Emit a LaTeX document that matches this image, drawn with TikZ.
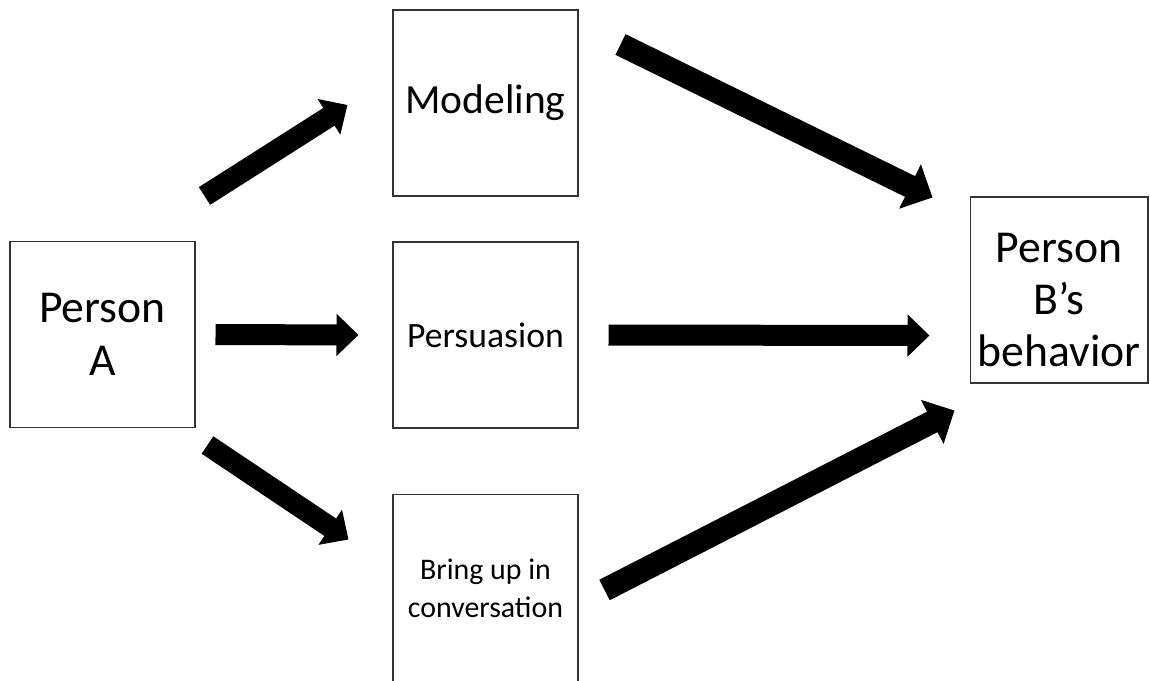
\documentclass[tikz,border=0pt]{standalone}
\usepackage{fontspec}
\setmainfont{Carlito}
\usetikzlibrary{arrows.meta,calc,positioning}

\tikzset{
	stage/.style={draw=black!80, line width=0.6pt, inner sep=0pt, align=center,
		minimum width=3.7cm, minimum height=3.72cm},
	thinarrow/.style={line width=0.42cm, -{Triangle[length=0.44cm,width=0.82cm]}},
	widearrow/.style={line width=0.46cm, -{Triangle[length=0.5cm,width=0.96cm]}}
}

\begin{document}
\begin{tikzpicture}[x=0.02cm,y=-0.02cm]
	\useasboundingbox (0,0) rectangle (1150,680);
	\node[stage, font=\fontsize{26}{30}\selectfont] (personA) at (102.5,334.5) {Person\\A};
	\node[stage, font=\fontsize{23.6}{27}\selectfont] (modeling) at (485.5,103) {\raisebox{3pt}{Modeling}};
	\node[stage, font=\fontsize{20.3}{24}\selectfont] (persuasion) at (485.5,335) {Persuasion};
	\node[stage, minimum height=3.76cm, font=\fontsize{17}{21.5}\selectfont] (convo) at (485.5,588) {Bring up in\\conversation};
	\node[stage, minimum width=3.56cm, font=\fontsize{26}{29.5}\selectfont] (personB) at (1059,290)
		{\raisebox{-8pt}[\height][\depth]{\begin{tabular}{@{}c@{}}Person\\B’s\\behavior\end{tabular}}};
	% first step
	\draw[thinarrow] ($(personA.north east)+(9,-45)$) -- ($(modeling.west)+(-45,2)$);
	\draw[thinarrow] ($(personA.east)+(20,0)$) -- ($(persuasion.west)+(-34,0)$);
	\draw[thinarrow] ($(personA.south east)+(12,17)$) -- ($(convo.north west)+(-44,46)$);
	% second step
	\draw[widearrow] ($(modeling.north east)+(42,35)$) -- ($(personB.north west)+(-37,1)$);
	\draw[thinarrow] ($(persuasion.east)+(30,0)$) -- ($(personB.south west)+(-40,-48)$);
	\draw[widearrow] ($(convo.east)+(26,2)$) -- ($(personB.south west)+(-15,27)$);
\end{tikzpicture}
\end{document}
